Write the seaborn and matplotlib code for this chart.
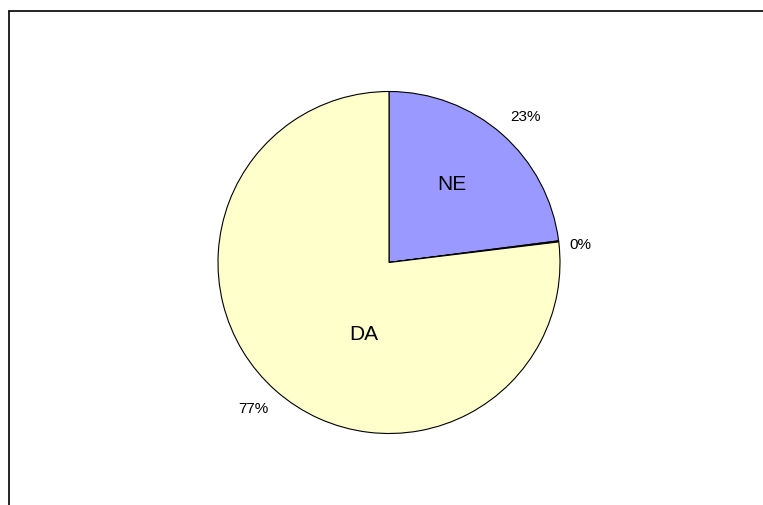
import matplotlib
matplotlib.use("Agg")
import matplotlib.pyplot as plt
from matplotlib.lines import Line2D
import seaborn as sns
import math

categories = ["NE", "", "DA"]
values = [23.0, 0.1, 77.0]
colors = ["#9999FF", "#993366", "#FFFFCC"]
pct_distances = [1.17, 1.125, 1.165]
label_positions = [(0.367, 0.46), (0.0, 0.0), (-0.146, -0.418)]

sns.set_theme(style="white")
plt.rcParams["font.family"] = ["Liberation Sans", "DejaVu Sans"]

W, H = 763, 506
fig = plt.figure(figsize=(W / 100, H / 100), dpi=100)
fig.patch.set_facecolor("white")

cx, cy, r = 389, 263.5, 171
ax = fig.add_axes([(cx - r) / W, (H - cy - r) / H, 2 * r / W, 2 * r / H])

wedges, texts, autotexts = ax.pie(
    values,
    labels=categories,
    colors=colors,
    startangle=90,
    counterclock=False,
    autopct=lambda p: f"{p:.0f}%",
    pctdistance=1.17,
    labeldistance=0.58,
    wedgeprops=dict(edgecolor="black", linewidth=0.8),
    textprops=dict(color="black"),
)

for w, t, d in zip(wedges, autotexts, pct_distances):
    ang = math.radians((w.theta1 + w.theta2) / 2 - 1.5)
    t.set_position((d * math.cos(ang), d * math.sin(ang)))
    t.set_fontsize(11)
    t.set_ha("center")
    t.set_va("center")

for t, pos in zip(texts, label_positions):
    t.set_position(pos)
    t.set_fontsize(15)
    t.set_ha("center")
    t.set_va("center")

ax.set_xlim(-1, 1)
ax.set_ylim(-1, 1)
ax.set_aspect("equal")
ax.axis("off")

# partial chart-area frame (left and top edges)
x0 = 8.5 / W
y0 = 1 - 11.5 / H
fig.add_artist(Line2D([x0, x0], [0, y0], color="black", linewidth=1.2, transform=fig.transFigure))
fig.add_artist(Line2D([x0, 1], [y0, y0], color="black", linewidth=1.2, transform=fig.transFigure))

fig.savefig("out.png", dpi=100, facecolor="white")
